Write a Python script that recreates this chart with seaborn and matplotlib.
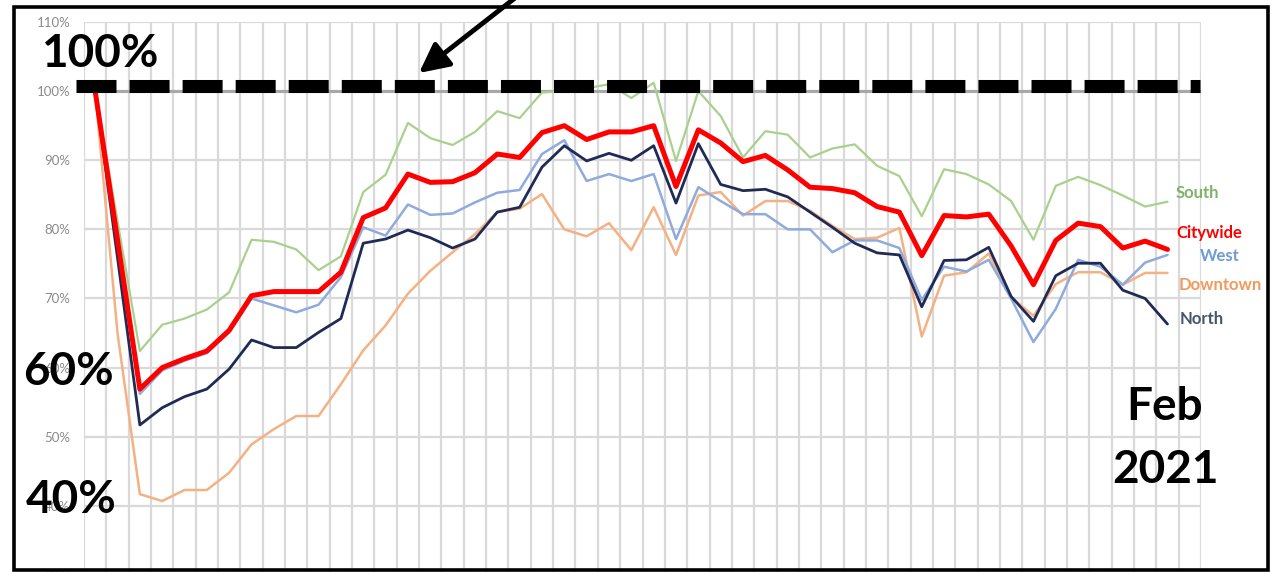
import numpy as np
import pandas as pd
import matplotlib
matplotlib.use("Agg")
import matplotlib.pyplot as plt
from matplotlib.lines import Line2D
from matplotlib.patches import Rectangle
import seaborn as sns

# Weekly activity as a share of the pre-pandemic baseline (%)
weeks = list(range(49))

south = [100, 81.2, 62.4, 66.2, 67.1, 68.4, 70.9, 78.5, 78.2, 77.1, 74.1, 76.1, 85.4,
         87.9, 95.4, 93.2, 92.2, 94.1, 97.1, 96.1, 99.8, 100.0, 100.4, 101.0, 99.0,
         101.2, 89.9, 100.0, 96.4, 90.4, 94.2, 93.7, 90.4, 91.7, 92.3, 89.2, 87.7,
         81.9, 88.7, 88.0, 86.5, 84.1, 78.5, 86.3, 87.6, 86.4, 84.9, 83.3, 84.0]

citywide = [100, 78.5, 56.9, 60.0, 61.3, 62.4, 65.4, 70.4, 71.0, 71.0, 71.0, 73.8, 81.7,
            83.1, 88.0, 86.8, 86.9, 88.2, 90.9, 90.4, 94.0, 95.0, 93.0, 94.1, 94.1,
            95.0, 86.2, 94.4, 92.5, 89.8, 90.7, 88.6, 86.1, 85.9, 85.3, 83.3, 82.5,
            76.2, 82.0, 81.8, 82.2, 77.6, 72.0, 78.4, 80.9, 80.4, 77.3, 78.3, 77.1]

west = [100, 78.1, 56.2, 59.6, 61.0, 62.1, 65.1, 70.0, 69.0, 68.0, 69.1, 73.1, 80.3,
        79.1, 83.6, 82.1, 82.3, 83.9, 85.3, 85.7, 90.9, 92.9, 87.0, 88.0, 87.0,
        88.0, 78.6, 86.1, 84.1, 82.2, 82.2, 80.0, 80.0, 76.7, 78.4, 78.4, 77.3,
        69.8, 74.6, 73.9, 75.6, 70.0, 63.7, 68.5, 75.6, 74.6, 72.0, 75.2, 76.3]

downtown = [100, 65.0, 41.7, 40.7, 42.3, 42.3, 44.8, 48.9, 51.1, 53.0, 53.0, 57.6, 62.5,
            66.1, 70.7, 74.0, 76.7, 79.3, 82.5, 83.0, 85.1, 80.0, 79.0, 80.9, 77.0,
            83.2, 76.3, 84.9, 85.4, 82.0, 84.1, 84.1, 82.7, 80.5, 78.6, 78.8, 80.2,
            64.5, 73.3, 73.8, 76.5, 70.2, 67.5, 72.1, 73.8, 73.8, 72.0, 73.7, 73.7]

north = [100, 75.9, 51.7, 54.2, 55.8, 56.9, 59.8, 64.0, 62.9, 62.9, 65.1, 67.1, 78.0,
         78.6, 79.9, 78.8, 77.3, 78.6, 82.5, 83.2, 89.0, 92.1, 89.9, 91.0, 90.0,
         92.1, 83.8, 92.4, 86.5, 85.6, 85.8, 84.7, 82.5, 80.3, 78.0, 76.6, 76.3,
         68.8, 75.5, 75.6, 77.4, 70.3, 66.7, 73.3, 75.1, 75.1, 71.2, 70.0, 66.3]

series_names = ["Downtown", "West", "South", "North", "Citywide"]
series_values = [downtown, west, south, north, citywide]
y_ticks = [30, 40, 50, 60, 70, 80, 90, 100, 110]
n_slots = 50

line_colors = {"Downtown": "#f4b183", "West": "#8faadc", "South": "#a9d18e",
               "North": "#1f2a55", "Citywide": "#ff0000"}
line_widths = {"Downtown": 1.8, "West": 1.8, "South": 1.6, "North": 2.0, "Citywide": 3.6}
label_colors = {"South": "#7fb26a", "Citywide": "#ff0000", "West": "#6f9bd6",
                "Downtown": "#f29a5c", "North": "#44546a"}

df = pd.DataFrame({
    "week": np.tile(weeks, len(series_names)),
    "share": np.concatenate(series_values),
    "area": np.repeat(series_names, len(weeks)),
})

sns.set_style("white")
plt.rcParams["font.family"] = ["Lato", "DejaVu Sans"]
plt.rcParams["lines.scale_dashes"] = False

W, H = 1272, 572
fig = plt.figure(figsize=(W / 100, H / 100), dpi=100)
fig.patch.set_facecolor("white")

def fx(x):
    return x / W

def fy(y):
    return 1 - y / H

ax = fig.add_axes([fx(84), fy(575), (1201 - 84) / W, (575 - 22) / H])

# grid
ax.set_xlim(-0.5, n_slots - 0.5)
ax.set_ylim(30, 110)
ax.set_xticks(np.arange(-0.5, n_slots, 1.0))
ax.set_xticklabels([])
ax.set_yticks(y_ticks)
ax.set_yticklabels([f"{t}%" for t in y_ticks])
ax.grid(True, color="#d9d9d9", lw=1.6)
ax.tick_params(axis="both", length=0)
ax.tick_params(axis="y", pad=10, labelsize=9.5, labelcolor="#8a8a8a")
for s in ax.spines.values():
    s.set_visible(False)
ax.axhline(100, color="#a8a8a8", lw=2.2, zorder=1)

for name in series_names:
    sns.lineplot(data=df[df["area"] == name], x="week", y="share", ax=ax,
                 color=line_colors[name], lw=line_widths[name], zorder=3,
                 legend=False)
ax.set_xlabel("")
ax.set_ylabel("")

# heavy dashed reference line at the pre-pandemic level
fig.add_artist(Line2D([fx(76), fx(1200)], [fy(85.5), fy(85.5)], transform=fig.transFigure,
                      color="black", lw=9.4, dashes=(28.8, 9.4), solid_capstyle="butt",
                      dash_capstyle="butt", zorder=10))

# arrow pointing at the reference line
ax.annotate("", xy=(419, H - 73), xytext=(515, H + 2),
            xycoords="figure pixels", textcoords="figure pixels",
            arrowprops=dict(arrowstyle="-|>,head_length=0.9,head_width=0.45",
                            color="black", lw=3.5, mutation_scale=20, shrinkA=0, shrinkB=0),
            annotation_clip=False)

# area labels at the line ends
area_labels = [("South", 1176, 198), ("Citywide", 1176, 238), ("West", 1200, 261),
               ("Downtown", 1179, 290), ("North", 1180, 324)]
for name, x, y in area_labels:
    fig.text(fx(x), fy(y), name, color=label_colors[name], fontsize=12,
             fontweight="bold", ha="left", va="baseline")

# large callouts
big = dict(fontsize=33, fontweight="bold", color="black", va="baseline")
fig.text(fx(41), fy(67), "100%", ha="left", zorder=11, **big)
fig.text(fx(23), fy(385), "60%", ha="left", zorder=11, **big)
fig.text(fx(26), fy(513), "40%", ha="left", zorder=11, **big)
fig.text(fx(1165), fy(420), "Feb", ha="center", zorder=11, **big)
fig.text(fx(1165), fy(483), "2021", ha="center", zorder=11, **big)

# outer frame
fig.add_artist(Rectangle((fx(14), fy(570)), (1268 - 14) / W, (570 - 7) / H,
                         transform=fig.transFigure, fill=False, edgecolor="black",
                         lw=2.6, zorder=20))

fig.savefig("out.png", dpi=100, facecolor="white")
